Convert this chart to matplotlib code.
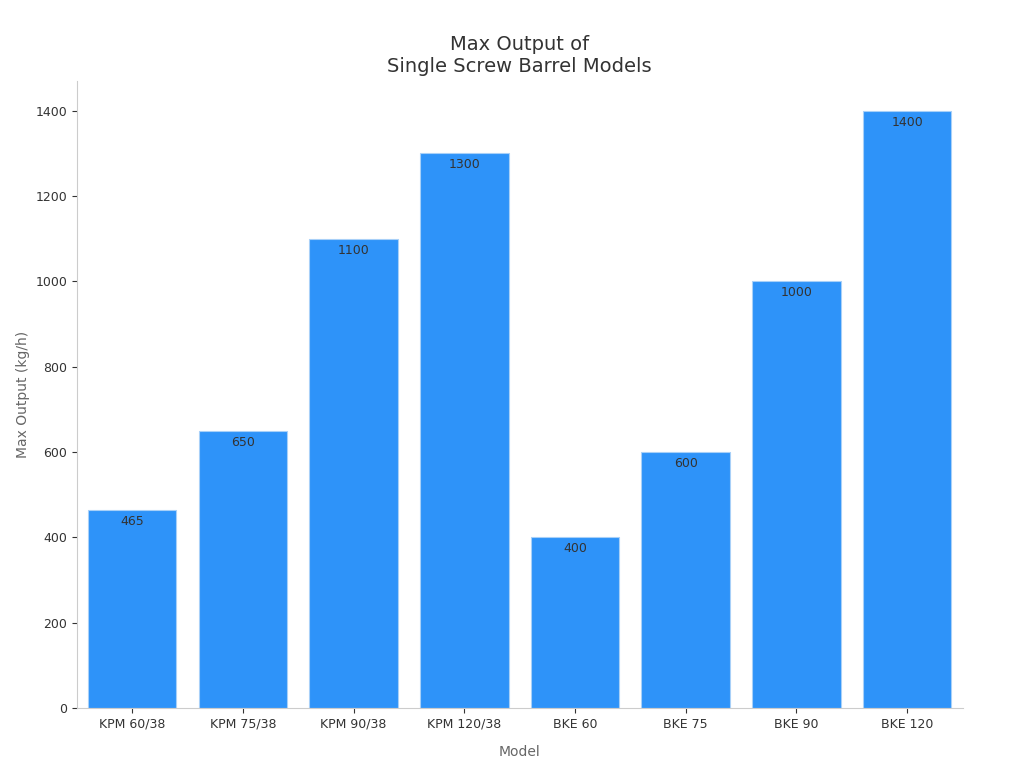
import matplotlib.pyplot as plt

models = ['KPM 60/38', 'KPM 75/38', 'KPM 90/38', 'KPM 120/38', 'BKE 60', 'BKE 75', 'BKE 90', 'BKE 120']
output = [465, 650, 1100, 1300, 400, 600, 1000, 1400]

fig, ax = plt.subplots(figsize=(10.24, 7.68), dpi=100)
fig.subplots_adjust(left=0.075, right=0.94, top=0.895, bottom=0.078)

bars = ax.bar(models, output, width=0.8, color='#2e93f9', edgecolor='#a8d0f8', linewidth=0.8)
for b, v in zip(bars, output):
    ax.text(b.get_x() + b.get_width() / 2, v - 12, str(v), ha='center', va='top',
            fontsize=9, color='#333333')

ax.set_title('Max Output of\nSingle Screw Barrel Models', fontsize=14, color='#333333')
ax.set_xlabel('Model', fontsize=10, color='#666666', labelpad=10)
ax.set_ylabel('Max Output (kg/h)', fontsize=10, color='#666666')
ax.set_xlim(-0.5, 7.5)
ax.set_ylim(0, 1470)
ax.set_yticks(range(0, 1401, 200))
ax.tick_params(labelsize=9, colors='#333333')
for s in ['top', 'right']:
    ax.spines[s].set_visible(False)
for s in ['left', 'bottom']:
    ax.spines[s].set_color('#cccccc')

plt.savefig('out.png', dpi=100)
